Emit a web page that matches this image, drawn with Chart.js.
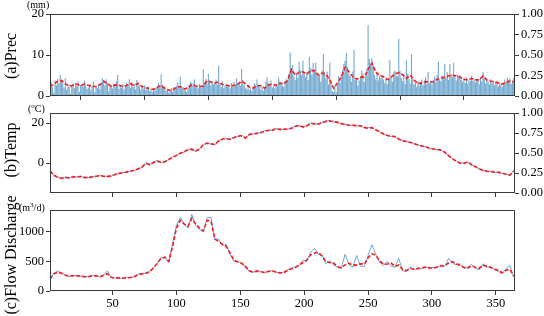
<!DOCTYPE html>
<html>
<head>
<meta charset="utf-8">
<script src="https://cdn.jsdelivr.net/npm/chart.js@4.4.1/dist/chart.umd.min.js"></script>
<style>
  body { margin: 0; background: #fff; }
  #wrap { position: relative; width: 544px; height: 316px; overflow: hidden; background: #fff; font-family: "Liberation Serif", "DejaVu Serif", serif; color: #000; }
  #wrap canvas { position: absolute; left: 0; top: 0; }
  .ylab { position: absolute; font-size: 16px; white-space: nowrap; transform: translate(-50%, -50%) rotate(-90deg); }
  .unit { position: absolute; font-size: 10px; white-space: nowrap; }
</style>
</head>
<body>
<div id="wrap">
  <canvas id="c1" width="544" height="316"></canvas>
  <canvas id="c2" width="544" height="316"></canvas>
  <canvas id="c3" width="544" height="316"></canvas>
  <div class="ylab" style="left:11px; top:56px;">(a)Prec</div>
  <div class="ylab" style="left:11px; top:150px;">(b)Temp</div>
  <div class="ylab" style="left:11px; top:255px;">(c)Flow Discharge</div>
  <div class="unit" style="left:27px; top:-1px;">(mm)</div>
  <div class="unit" style="left:28px; top:102px;">(<sup style="font-size:7px">o</sup>C)</div>
  <div class="unit" style="left:19px; top:201px;">(m<sup style="font-size:7px">3</sup>/d)</div>
</div>
<script>
// day axis
const days = Array.from({ length: 365 }, (_, i) => i + 1);
const stepDays = Array.from({ length: 122 }, (_, i) => 1 + 3 * i);
const xTicks = [50, 100, 150, 200, 250, 300, 350];

// (a) daily precipitation, mm
const precDaily = [
  1.2, 3.5, 2.1, 0.8, 3.8, 2.6, 4.2, 3.1, 5.2, 4.0,
  3.3, 2.0, 4.3, 1.5, 2.2, 2.8, 0.6, 2.5, 3.1, 1.9,
  3.2, 2.4, 3.6, 1.0, 2.7, 3.0, 2.2, 3.8, 2.6, 1.7,
  2.1, 2.8, 1.4, 2.5, 3.5, 0.9, 2.3, 2.0, 3.0, 1.6,
  3.2, 4.4, 3.9, 2.5, 4.1, 3.3, 1.2, 2.2, 2.8, 1.8,
  3.0, 2.4, 3.6, 5.1, 1.7, 2.5, 2.0, 2.9, 1.5, 2.7,
  3.3, 2.6, 4.1, 2.0, 3.4, 2.2, 2.8, 1.6, 3.9, 3.2,
  2.4, 1.5, 2.2, 1.8, 2.6, 1.4, 1.9, 2.3, 1.2, 1.7,
  1.0, 1.8, 1.3, 2.0, 2.5, 3.2, 2.1, 5.3, 2.8, 2.0,
  1.8, 1.2, 1.6, 0.8, 1.4, 1.9, 1.1, 2.2, 1.7, 2.5,
  3.4, 2.4, 4.7, 1.9, 2.2, 1.3, 1.6, 1.0, 2.0, 2.8,
  3.5, 2.5, 3.1, 4.0, 2.2, 2.6, 1.8, 3.0, 2.1, 2.4,
  6.5, 3.4, 4.2, 3.0, 5.4, 3.8, 2.6, 3.5, 2.9, 3.2,
  4.0, 2.8, 7.3, 3.1, 2.2, 3.6, 1.9, 2.5, 3.0, 2.3,
  2.6, 1.8, 3.1, 2.2, 3.4, 2.7, 4.3, 2.9, 3.3, 2.5,
  6.6, 3.9, 2.8, 2.0, 1.6, 2.4, 1.5, 1.9, 1.2, 2.3,
  3.1, 2.6, 4.0, 2.8, 2.2, 1.6, 2.4, 1.3, 2.0, 3.5,
  4.6, 3.2, 2.9, 3.8, 2.1, 2.5, 1.8, 3.0, 2.4, 4.5,
  3.6, 2.8, 2.5, 2.2, 3.6, 4.2, 3.8, 5.5, 10.6, 6.8,
  7.5, 4.8, 3.9, 5.2, 4.4, 8.4, 6.3, 5.1, 8.6, 5.7,
  4.6, 5.8, 3.9, 9.6, 6.8, 5.2, 8.1, 6.4, 8.1, 5.5,
  4.8, 5.3, 3.5, 6.2, 10.2, 5.9, 4.3, 6.0, 2.8, 8.1,
  3.1, 1.2, 1.0, 2.5, 0.9, 3.0, 4.8, 3.3, 5.2, 6.3,
  7.8, 8.6, 10.4, 7.1, 5.3, 4.9, 3.5, 6.0, 11.2, 3.9,
  4.3, 2.5, 3.8, 4.6, 6.2, 5.5, 3.4, 4.8, 6.7, 17.3,
  9.1, 7.9, 9.2, 7.5, 5.2, 4.1, 6.0, 3.8, 5.0, 4.4,
  5.1, 4.0, 3.1, 4.6, 2.8, 4.2, 8.8, 4.5, 3.5, 5.8,
  6.3, 5.0, 4.8, 13.9, 6.1, 4.4, 3.6, 5.2, 2.9, 8.8,
  5.5, 4.2, 3.0, 10.2, 4.1, 2.8, 3.3, 2.2, 3.6, 2.5,
  3.4, 4.0, 2.6, 3.8, 4.5, 2.9, 5.9, 3.1, 3.7, 2.8,
  3.9, 4.8, 3.4, 5.2, 8.4, 4.1, 3.6, 5.0, 4.4, 7.8,
  4.5, 5.8, 3.9, 7.8, 5.3, 4.6, 8.1, 4.9, 3.8, 5.2,
  4.8, 5.1, 4.0, 3.5, 4.4, 3.2, 4.6, 3.0, 4.1, 3.6,
  4.9, 3.7, 4.2, 3.3, 3.9, 4.0, 2.8, 4.5, 3.6, 5.9,
  4.3, 3.0, 3.9, 3.5, 2.8, 4.1, 3.2, 3.7, 2.6, 3.4,
  3.1, 2.4, 3.3, 2.7, 2.2, 3.0, 4.0, 3.4, 4.5, 3.8,
  4.3, 2.9, 3.6, 4.4, 3.1
];
// smoothed precipitation, every 3rd day
const precSmooth = [
  2.2, 2.9, 3.6, 3.8, 3.0, 2.4, 2.6, 2.9, 2.5, 2.9,
  2.6, 2.3, 2.3, 2.7, 3.6, 3.0, 2.3, 2.7, 2.6, 2.3,
  2.6, 3.0, 2.5, 3.1, 2.3, 2.0, 1.8, 1.6, 2.1, 2.6,
  1.9, 1.4, 1.5, 2.1, 2.3, 1.7, 2.0, 2.8, 2.5, 2.3,
  2.4, 3.7, 3.4, 3.2, 3.4, 2.8, 2.6, 2.4, 2.6, 2.9,
  3.6, 3.0, 2.2, 1.9, 2.5, 2.5, 1.9, 2.7, 2.9, 2.6,
  3.1, 3.0, 3.8, 6.5, 5.1, 5.8, 5.9, 5.3, 6.2, 6.2,
  5.1, 5.6, 5.2, 4.0, 1.9, 3.2, 4.6, 7.0, 5.9, 4.7,
  4.1, 4.6, 4.6, 6.5, 8.0, 5.8, 5.0, 4.7, 4.0, 4.6,
  5.4, 5.7, 5.2, 4.3, 5.1, 3.9, 3.0, 3.2, 3.5, 3.4,
  3.4, 4.1, 4.4, 4.6, 4.9, 5.1, 4.9, 4.6, 4.1, 3.9,
  4.3, 4.0, 3.9, 4.9, 3.9, 3.6, 3.5, 3.2, 2.9, 3.3,
  3.7, 3.5
];

// (b) temperature, degC, every 3rd day
const tempObs = [
  -3.5, -6.4, -7.0, -7.9, -7.0, -7.6, -6.6, -7.1, -6.5, -7.5,
  -7.2, -6.6, -6.9, -6.0, -6.9, -6.5, -6.7, -5.5, -5.4, -4.7,
  -4.7, -3.9, -3.8, -2.7, -2.3, 0.3, -1.1, 0.5, 1.2, 0.0,
  0.8, 1.6, 3.1, 3.6, 5.1, 5.3, 6.9, 6.6, 5.8, 7.1,
  9.0, 10.2, 9.4, 9.0, 11.3, 11.8, 12.3, 11.6, 12.9, 13.2,
  13.9, 12.2, 14.5, 14.4, 15.0, 15.1, 16.1, 16.2, 16.6, 17.4,
  16.5, 17.0, 16.8, 17.6, 18.5, 18.5, 17.8, 18.8, 20.0, 19.3,
  19.7, 20.1, 21.0, 21.2, 20.5, 20.5, 19.4, 19.4, 18.7, 19.0,
  18.5, 18.8, 17.5, 17.6, 17.9, 16.3, 15.8, 14.3, 13.9, 13.2,
  13.4, 11.8, 11.2, 10.6, 10.5, 9.5, 9.2, 8.3, 8.2, 7.2,
  7.2, 6.6, 6.6, 5.1, 3.9, 2.0, 1.0, -0.3, 0.1, 0.7,
  -1.1, -1.7, -3.1, -3.6, -4.4, -4.1, -4.7, -4.5, -5.3, -5.4,
  -6.3, -3.6
];
const tempSmooth = [
  -4.0, -6.0, -7.2, -7.6, -7.3, -7.4, -7.0, -6.9, -6.8, -7.2,
  -7.4, -7.0, -6.6, -6.3, -6.6, -6.8, -6.4, -5.8, -5.2, -5.0,
  -4.5, -4.1, -3.6, -3.0, -2.0, -0.2, -0.8, 0.2, 0.9, 0.3,
  0.6, 1.8, 2.8, 3.8, 4.9, 5.6, 6.6, 6.9, 6.1, 6.8,
  9.2, 9.9, 9.6, 9.2, 11.0, 12.0, 12.0, 11.9, 12.6, 13.4,
  13.6, 12.5, 14.2, 14.6, 14.8, 15.3, 15.8, 16.4, 16.3, 17.1,
  16.8, 16.8, 17.0, 17.3, 18.2, 18.8, 18.0, 18.5, 19.8, 19.6,
  19.4, 20.3, 20.8, 21.0, 20.7, 20.3, 19.7, 19.2, 18.9, 18.8,
  18.7, 18.6, 17.8, 17.4, 17.7, 16.6, 15.5, 14.6, 13.7, 13.4,
  13.2, 12.0, 11.0, 10.8, 10.3, 9.7, 9.0, 8.5, 8.0, 7.4,
  7.0, 6.8, 6.4, 5.4, 3.6, 2.3, 0.8, 0.0, -0.2, 0.5,
  -0.8, -1.9, -2.9, -3.8, -4.1, -4.3, -4.5, -4.7, -5.1, -5.6,
  -6.1, -4.0
];

// (c) flow discharge, m3/d, every 3rd day
const flowObs = [
  190, 300, 340, 305, 265, 240, 262, 255, 248, 238,
  242, 268, 255, 236, 270, 340, 225, 215, 222, 210,
  230, 225, 245, 290, 280, 300, 340, 400, 460, 570,
  560, 480, 800, 1110, 1240, 1120, 1060, 1290, 1110, 1040,
  1000, 1230, 1240, 860, 880, 760, 790, 620, 500, 500,
  460, 420, 330, 315, 340, 330, 305, 335, 342, 315,
  300, 320, 360, 380, 410, 420, 520, 500, 650, 720,
  620, 600, 460, 510, 440, 400, 380, 620, 440, 400,
  600, 420, 410, 600, 780, 620, 480, 430, 500, 420,
  400, 550, 340, 330, 410, 350, 395, 370, 410, 380,
  400, 390, 440, 410, 550, 470, 440, 460, 380, 400,
  450, 380, 360, 460, 400, 410, 355, 335, 295, 380,
  430, 240
];
const flowSmooth = [
  200, 290, 315, 300, 270, 250, 255, 258, 250, 242,
  240, 252, 258, 240, 265, 290, 230, 222, 218, 215,
  222, 228, 240, 275, 290, 300, 320, 390, 470, 550,
  570, 500, 760, 1060, 1190, 1130, 1090, 1220, 1130, 1060,
  1010, 1190, 1180, 880, 830, 790, 750, 640, 520, 490,
  470, 410, 340, 320, 335, 325, 310, 330, 338, 320,
  305, 310, 345, 375, 395, 440, 480, 520, 610, 640,
  650, 590, 490, 480, 470, 410, 390, 440, 470, 430,
  440, 460, 450, 560, 630, 600, 510, 450, 455, 470,
  415, 440, 360, 345, 380, 370, 375, 390, 400, 390,
  385, 405, 420, 430, 470, 495, 460, 430, 400, 385,
  425, 400, 380, 435, 415, 395, 370, 345, 305, 350,
  365, 250
];

const precTicks = [0, 10, 20];
const tempTicks = [0, 20];
const flowTicks = [0, 500, 1000];
const rightTicks = [0, 0.25, 0.5, 0.75, 1];

function pts(xs, ys) {
  return ys.map((y, i) => ({ x: xs[i], y }));
}

const INK = '#3a3a3a';
const FONT = { family: "'Liberation Serif', 'DejaVu Serif', serif", size: 12.5 };
const RED = '#ff1a1a';
const BLUE_LINE = 'rgba(60,140,205,0.75)';

// box around each plot area (matplotlib spines)
const frame = {
  id: 'frame',
  afterDraw(chart) {
    const { ctx, chartArea: a } = chart;
    ctx.save();
    ctx.strokeStyle = INK;
    ctx.lineWidth = 1;
    ctx.strokeRect(Math.round(a.left) + 0.5, Math.round(a.top) + 0.5,
      Math.round(a.right - a.left) - 1, Math.round(a.bottom - a.top) - 1);
    ctx.restore();
  }
};

function xScale(height, showLabels) {
  return {
    type: 'linear', min: 1, max: 365, offset: false,
    afterBuildTicks: s => { s.ticks = xTicks.map(v => ({ value: v })); },
    afterFit: s => { s.height = height; },
    ticks: { display: showLabels, font: FONT, color: '#000', padding: 1, maxRotation: 0, autoSkip: false },
    grid: { display: true, drawOnChartArea: false, tickLength: 4, color: INK },
    border: { display: false },
  };
}

function yScale(pos, min, max, tickVals, fmt) {
  return {
    type: 'linear', position: pos, min, max,
    afterBuildTicks: s => { s.ticks = tickVals.map(v => ({ value: v })); },
    afterFit: s => { s.width = pos === 'left' ? 50 : 29; },
    ticks: { font: FONT, color: '#000', padding: 2, callback: fmt || (v => v) },
    grid: { display: true, drawOnChartArea: false, tickLength: 4, color: INK },
    border: { display: false },
  };
}

function baseOpts(pad, scales) {
  return {
    responsive: false, animation: false, devicePixelRatio: 1,
    layout: { padding: pad },
    plugins: { legend: { display: false }, tooltip: { enabled: false } },
    scales,
  };
}

const fmt2 = v => v.toFixed(2);

new Chart(document.getElementById('c1'), {
  type: 'bar',
  data: {
    datasets: [
      {
        type: 'line', data: pts(stepDays, precSmooth), borderColor: RED, borderWidth: 1.6,
        borderDash: [4, 2], pointRadius: 0, order: 0, yAxisID: 'y',
      },
      {
        type: 'bar', data: pts(days, precDaily), backgroundColor: 'rgba(31,119,180,0.62)',
        borderWidth: 0, barPercentage: 1, categoryPercentage: 0.9, order: 1, yAxisID: 'y',
      },
    ],
  },
  options: baseOpts({ top: 14, bottom: 210, left: 0, right: 0 }, {
    x: xScale(10, false),
    y: yScale('left', 0, 20, precTicks),
    y1: yScale('right', 0, 1, rightTicks, fmt2),
  }),
  plugins: [frame],
});

new Chart(document.getElementById('c2'), {
  type: 'line',
  data: {
    datasets: [
      {
        data: pts(stepDays, tempSmooth), borderColor: RED, borderWidth: 1.6,
        borderDash: [4, 2], pointRadius: 0, order: 0, yAxisID: 'y',
      },
      {
        data: pts(stepDays, tempObs), borderColor: BLUE_LINE, borderWidth: 1,
        pointRadius: 0, order: 1, yAxisID: 'y',
      },
    ],
  },
  options: baseOpts({ top: 113, bottom: 113, left: 0, right: 0 }, {
    x: xScale(10, false),
    y: yScale('left', -15, 25, tempTicks),
    y1: yScale('right', 0, 1, rightTicks, fmt2),
  }),
  plugins: [frame],
});

new Chart(document.getElementById('c3'), {
  type: 'line',
  data: {
    datasets: [
      {
        data: pts(stepDays, flowSmooth), borderColor: RED, borderWidth: 1.6,
        borderDash: [4, 2], pointRadius: 0, order: 0,
      },
      {
        data: pts(stepDays, flowObs), borderColor: BLUE_LINE, borderWidth: 1,
        pointRadius: 0, order: 1,
      },
    ],
  },
  options: baseOpts({ top: 210, bottom: 1, left: 0, right: 29 }, {
    x: xScale(24, true),
    y: yScale('left', 0, 1365, flowTicks),
  }),
  plugins: [frame],
});
</script>
</body>
</html>
